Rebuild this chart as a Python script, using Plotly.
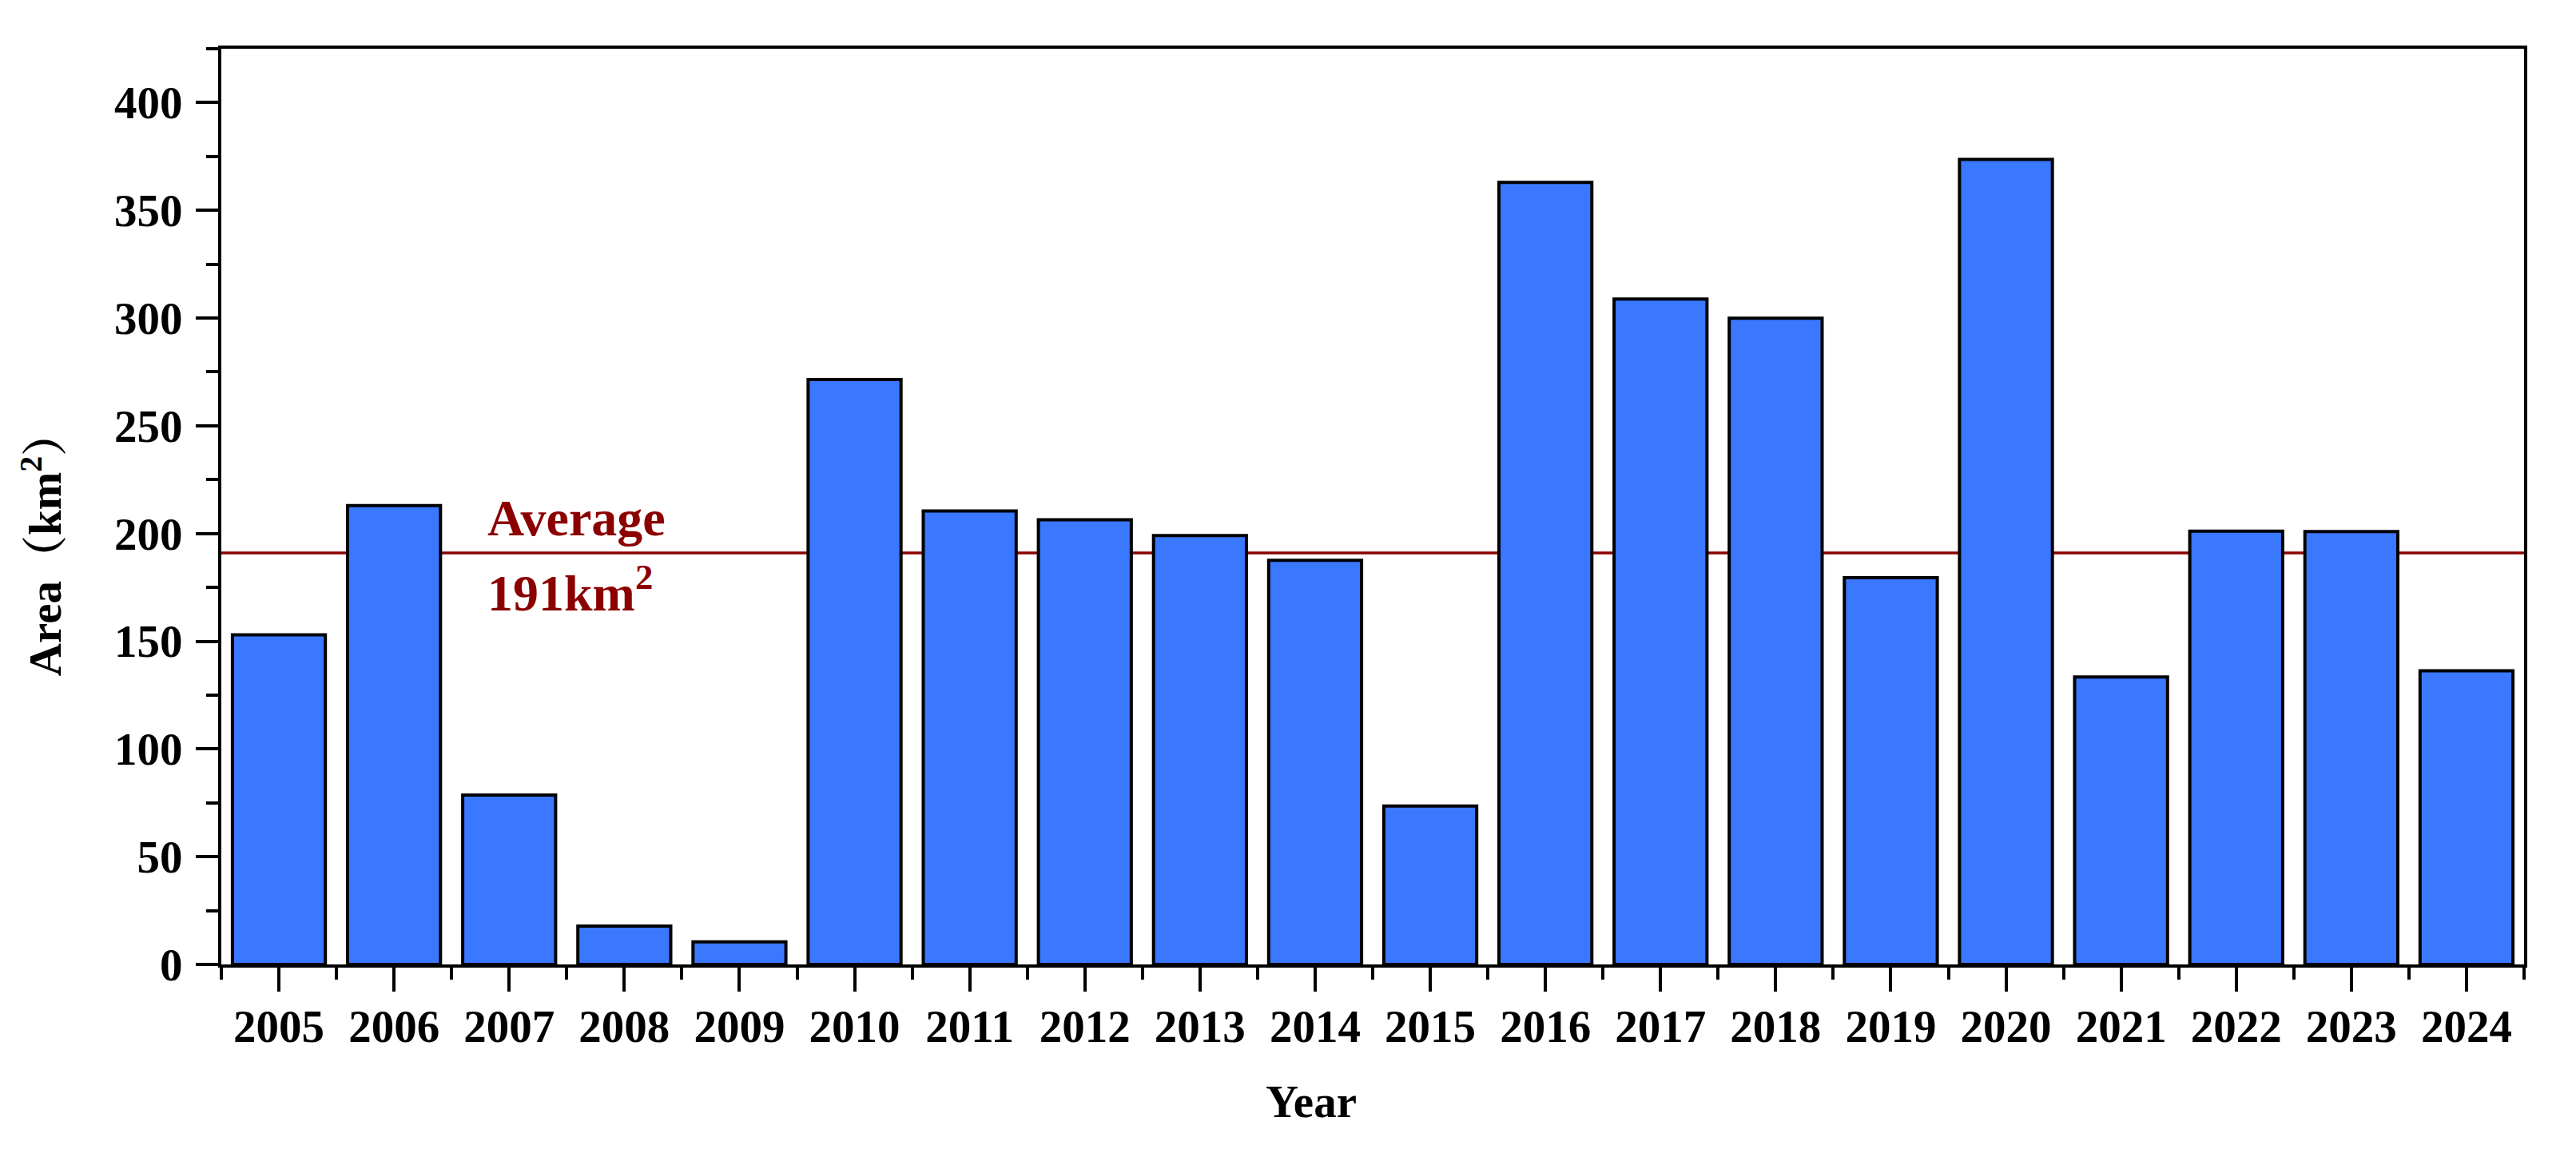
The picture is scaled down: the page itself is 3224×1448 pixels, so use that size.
import plotly.graph_objects as go

YEARS = list(range(2005, 2025))
AREA = [153, 213, 78.6, 17.8, 10.5, 271.5, 210.5, 206.4, 199.1, 187.6,
        73.5, 363, 308.8, 299.9, 179.5, 373.6, 133.4, 201.1, 200.9, 136.3]
AVERAGE = 191
Y_TICKS = [0, 50, 100, 150, 200, 250, 300, 350, 400]

BAR_COLOR = "#3A78FF"
AVG_COLOR = "#8B0000"
FONT = "Liberation Serif, 'Times New Roman', 'Noto Serif CJK SC', 'Noto Sans CJK SC', serif"

fig = go.Figure()
fig.add_trace(go.Bar(
    x=YEARS, y=AREA,
    marker=dict(color=BAR_COLOR, line=dict(color="black", width=4)),
    showlegend=False,
))

fig.add_shape(type="line", xref="paper", x0=0, x1=1, yref="y", y0=AVERAGE, y1=AVERAGE,
              line=dict(color=AVG_COLOR, width=3.5), layer="below")

fig.add_annotation(x=YEARS[0] - 0.5 + 2.3, y=AVERAGE + 16, xref="x", yref="y",
                   text="Average", showarrow=False, xanchor="left", yanchor="middle",
                   font=dict(family=FONT, size=64, color=AVG_COLOR, weight="bold"))
fig.add_annotation(x=YEARS[0] - 0.5 + 2.3, y=AVERAGE - 17, xref="x", yref="y",
                   text=f"{AVERAGE}km<sup>2</sup>", showarrow=False, xanchor="left", yanchor="middle",
                   font=dict(family=FONT, size=64, color=AVG_COLOR, weight="bold"))

# axis titles
fig.add_annotation(x=0.4733, y=-0.150, xref="paper", yref="paper", text="Year",
                   showarrow=False, xanchor="center", yanchor="middle",
                   font=dict(family=FONT, size=57, color="black", weight="bold"))
fig.add_annotation(x=-0.078, y=0.4598, xref="paper", yref="paper", text="Area（km<sup>2</sup>）",
                   showarrow=False, xanchor="center", yanchor="middle", textangle=-90,
                   font=dict(family=FONT, size=57, color="black", weight="bold"))

# page body has an 8px margin; size the figure so it fills the window exactly
fig.update_layout(
    width=3208, height=1432,
    margin=dict(l=269, r=57, t=53, b=233),
    paper_bgcolor="white", plot_bgcolor="white",
    bargap=0.193,
    font=dict(family=FONT, color="black"),
)

fig.update_xaxes(
    range=[YEARS[0] - 0.5, YEARS[-1] + 0.5],
    tickmode="array", tickvals=YEARS, ticktext=[str(y) for y in YEARS],
    ticks="outside", ticklen=30, tickwidth=4, tickcolor="black",
    minor=dict(ticks="outside", tick0=YEARS[0] - 0.5, dtick=1, ticklen=15, tickwidth=4, tickcolor="black"),
    showline=True, linecolor="black", linewidth=4, mirror=True,
    showgrid=False, zeroline=False,
    tickfont=dict(family=FONT, size=57, color="black", weight="bold"),
    ticklabelstandoff=-5,
)
fig.update_yaxes(
    range=[0, 425],
    tickmode="array", tickvals=Y_TICKS,
    ticks="outside", ticklen=28, tickwidth=4, tickcolor="black",
    minor=dict(ticks="outside", tick0=25, dtick=50, ticklen=15, tickwidth=4, tickcolor="black"),
    showline=True, linecolor="black", linewidth=4, mirror=True,
    showgrid=False, zeroline=False,
    tickfont=dict(family=FONT, size=57, color="black", weight="bold"),
    ticklabelstandoff=5,
)

fig.write_html("out.html")
